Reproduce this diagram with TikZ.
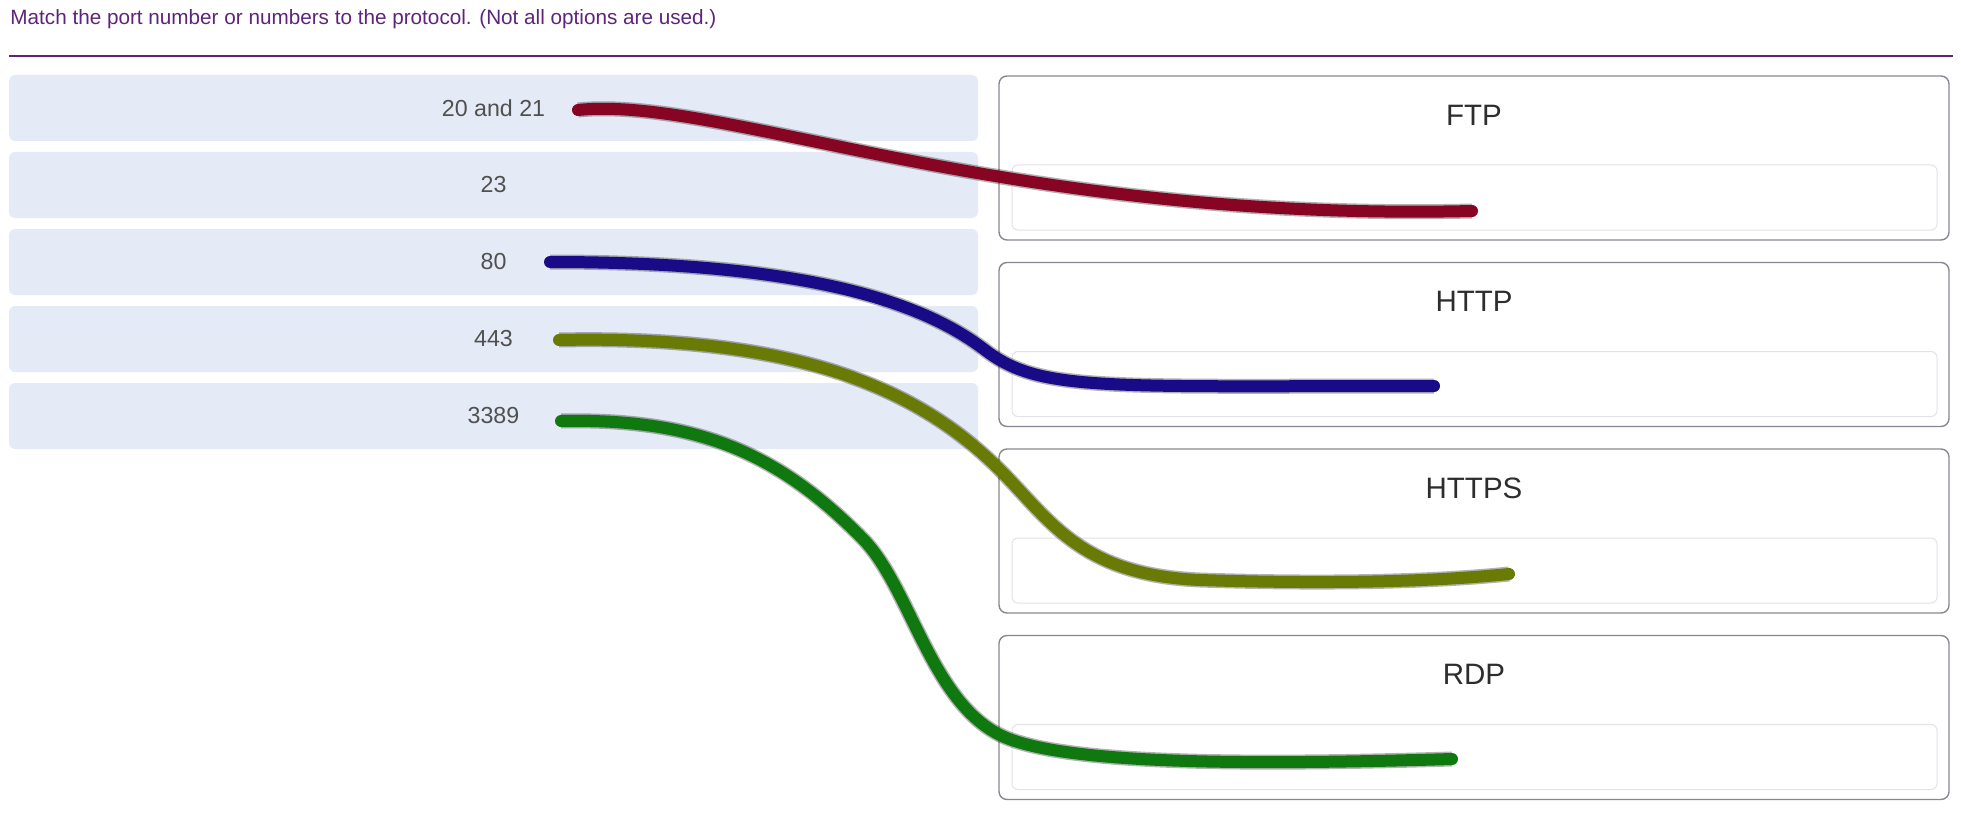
\documentclass[tikz,border=0pt]{standalone}
\usepackage{fontspec}
\setmainfont{Liberation Sans}
\definecolor{qpurple}{RGB}{94,36,122}
\definecolor{qbox}{RGB}{229,235,246}
\definecolor{qtext}{RGB}{80,80,80}
\definecolor{qhead}{RGB}{45,45,45}
\definecolor{qframe}{RGB}{135,135,145}
\definecolor{qzone}{RGB}{226,226,232}
\definecolor{qred}{RGB}{135,5,35}
\definecolor{qblue}{RGB}{25,10,135}
\definecolor{qolive}{RGB}{105,122,5}
\definecolor{qgreen}{RGB}{15,120,15}

\begin{document}
\begin{tikzpicture}[x=0.5pt,y=-0.5pt,
  port/.style={fill=qbox,rounded corners=3pt,minimum width=484.5pt,minimum height=33pt,
    text=qtext,font=\fontsize{11.6}{14}\selectfont},
  proto/.style={draw=qframe,line width=0.7pt,rounded corners=4pt,minimum width=475pt,minimum height=82pt},
  zone/.style={draw=qzone,line width=0.5pt,rounded corners=3pt,minimum width=462.5pt,minimum height=32.5pt},
  head/.style={text=qhead,font=\fontsize{14.75}{17}\selectfont},
  pen/.style={line width=6pt,line cap=round,preaction={draw,line width=7.5pt,opacity=0.3}}]
  \useasboundingbox (0,0) rectangle (1961,813);

  % question and rule
  \node[anchor=base west,inner sep=0pt,text=qpurple,font=\fontsize{10.35}{12}\selectfont] (Q) at (10,25)
    {Match the port number or numbers to the protocol. (Not all options are used.)};
  \draw[qpurple,line width=0.9pt] (9,56) -- (1953,56);

  % port numbers
  \node[port] (P1) at (493.5,108) {20 and 21};
  \node[port] (P2) at (493.5,185) {23};
  \node[port] (P3) at (493.5,262) {80};
  \node[port] (P4) at (493.5,339) {443};
  \node[port] (P5) at (493.5,416) {3389};

  % protocols
  \node[proto] (B1) at (1474,158) {};
  \node[proto] (B2) at (1474,344.5) {};
  \node[proto] (B3) at (1474,531) {};
  \node[proto] (B4) at (1474,717.5) {};
  \node[head] (FTP) at (1474,115) {FTP};
  \node[head] (HTTP) at (1474,301.5) {HTTP};
  \node[head] (HTTPS) at (1474,488) {HTTPS};
  \node[head] (RDP) at (1474,674.5) {RDP};
  \node[zone] (Z1) at (1474.5,197.5) {};
  \node[zone] (Z2) at (1474.5,384) {};
  \node[zone] (Z3) at (1474.5,570.5) {};
  \node[zone] (Z4) at (1474.5,757) {};

  % answers
  \coordinate (S1) at (578,110);
  \coordinate (E1) at (1472,211);
  \coordinate (S3) at (550,262);
  \coordinate (E3) at (1434,386);
  \coordinate (S4) at (559,340);
  \coordinate (E4) at (1509,574);
  \coordinate (S5) at (561,421);
  \coordinate (E5) at (1452,759);
  \draw[pen,qred] (S1) .. controls (720,95) and (1000,222) .. (E1);
  \draw[pen,qblue] (S3) .. controls (800,262) and (920,300) .. (985,350)
    .. controls (1040,392) and (1100,386) .. (E3);
  \draw[pen,qolive] (S4) .. controls (800,335) and (920,390) .. (1000,470)
    .. controls (1050,520) and (1080,575) .. (1200,580)
    .. controls (1350,585) and (1450,580) .. (E4);
  \draw[pen,qgreen] (S5) .. controls (700,418) and (780,455) .. (862,538)
    .. controls (910,586) and (930,700) .. (1000,735)
    .. controls (1060,765) and (1250,765) .. (E5);
\end{tikzpicture}
\end{document}
